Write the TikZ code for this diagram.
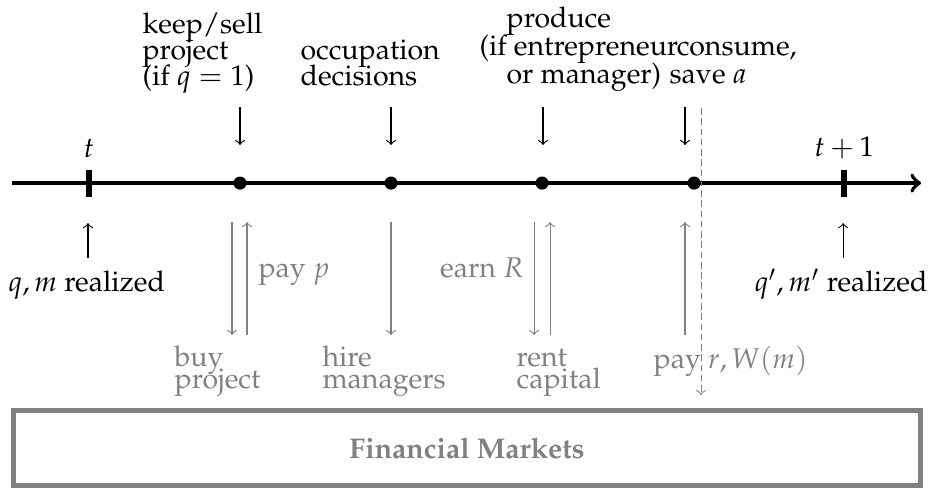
\documentclass[tikz,border=0pt]{standalone}
\usepackage[T1]{fontenc}
\usepackage{mathpazo}

\begin{document}
\begin{tikzpicture}[
    eventdot/.style={circle, fill=black, inner sep=0pt, minimum size=4.6pt},
    timetick/.style={line width=2.1pt},
    decision/.style={thin, -to},
    flow/.style={thin, gray, -to},
    txt/.style={inner sep=0pt, align=left, font={\fontsize{10}{9.1}\selectfont\lineskiplimit-20pt}},
    widetxt/.style={txt, font={\fontsize{10}{9.8}\selectfont\lineskiplimit-20pt}},
    graytxt/.style={txt, text=gray, font={\fontsize{10}{7.7}\selectfont\lineskiplimit-20pt}},
  ]
  \useasboundingbox (0,0) rectangle (11.54,6.03);

  % time line
  \coordinate (start) at (0.148, 3.773);
  \coordinate (end) at (11.357, 3.773);
  \draw[line width=1.4pt, ->] (start) -- (end);

  \coordinate (t0) at (1.097, 3.773);
  \coordinate (t1) at (10.407, 3.773);
  \draw[timetick] ([yshift=-0.166cm]t0) -- ([yshift=0.166cm]t0);
  \draw[timetick] ([yshift=-0.166cm]t1) -- ([yshift=0.166cm]t1);
  \node[anchor=base] (tlab) at (1.097, 4.094) {$t$};
  \node[anchor=base] (t1lab) at (10.407, 4.106) {$t+1$};

  \node[eventdot] (keep) at (2.959, 3.773) {};
  \node[eventdot] (occup) at (4.821, 3.773) {};
  \node[eventdot] (prod) at (6.683, 3.773) {};
  \node[eventdot] (cons) at (8.557, 3.773) {};

  % decisions above the line
  \node[txt, anchor=base west] (keeplab) at (1.751, 4.981) {keep/sell\\project\\(if $q=1$)};
  \node[txt, anchor=base west] (occuplab) at (3.699, 4.981) {occupation\\decisions};
  \node[widetxt, anchor=base west] (prodlab) at (5.906, 5.006) {\hspace*{9.5pt}produce\\(if entrepreneur\\\hspace*{9.5pt}or manager)};
  \node[widetxt, anchor=base west] (conslab) at (8.249, 5.006) {\hspace*{2.5pt}consume,\\save $a$};

  \coordinate (keepa) at (2.959, 4.710);
  \coordinate (keepb) at (2.959, 4.241);
  \coordinate (occupa) at (4.821, 4.710);
  \coordinate (occupb) at (4.821, 4.241);
  \coordinate (proda) at (6.695, 4.710);
  \coordinate (prodb) at (6.695, 4.241);
  \coordinate (consa) at (8.446, 4.710);
  \coordinate (consb) at (8.446, 4.241);
  \draw[decision] (keepa) -- (keepb);
  \draw[decision] (occupa) -- (occupb);
  \draw[decision] (proda) -- (prodb);
  \draw[decision] (consa) -- (consb);

  % shocks
  \node[txt, anchor=base west] (shock0) at (0.099, 2.43) {$q,m$ realized};
  \node[txt, anchor=base west] (shock1) at (9.297, 2.43) {$q',m'$ realized};
  \coordinate (s0a) at (1.085, 2.848);
  \coordinate (s0b) at (1.085, 3.280);
  \coordinate (s1a) at (10.395, 2.848);
  \coordinate (s1b) at (10.395, 3.280);
  \draw[decision] (s0a) -- (s0b);
  \draw[decision] (s1a) -- (s1b);

  % flows with the financial markets
  \coordinate (buya) at (2.861, 3.292);
  \coordinate (buyb) at (2.861, 1.899);
  \coordinate (paya) at (3.046, 1.899);
  \coordinate (payb) at (3.046, 3.292);
  \coordinate (hirea) at (4.821, 3.292);
  \coordinate (hireb) at (4.821, 1.899);
  \coordinate (renta) at (6.585, 3.292);
  \coordinate (rentb) at (6.585, 1.899);
  \coordinate (earna) at (6.782, 1.899);
  \coordinate (earnb) at (6.782, 3.292);
  \coordinate (wagea) at (8.446, 1.899);
  \coordinate (wageb) at (8.446, 3.292);
  \draw[flow] (buya) -- (buyb);
  \draw[flow] (paya) -- (payb);
  \draw[flow] (hirea) -- (hireb);
  \draw[flow] (renta) -- (rentb);
  \draw[flow] (earna) -- (earnb);
  \draw[flow] (wagea) -- (wageb);

  \node[graytxt, anchor=base west] (paylab) at (3.181, 2.614) {pay $p$};
  \node[graytxt, anchor=base east] (earnlab) at (6.46, 2.614) {earn $R$};
  \node[graytxt, anchor=base west] (buylab) at (2.146, 1.245) {buy\\project};
  \node[graytxt, anchor=base west] (hirelab) at (3.970, 1.245) {hire\\managers};
  \node[graytxt, anchor=base west] (rentlab) at (6.363, 1.245) {rent\\capital};
  \node[graytxt, anchor=base west] (wagelab) at (8.052, 1.492) {pay $r, W(m)$};

  % end of period
  \coordinate (cuta) at (8.644, 4.698);
  \coordinate (cutb) at (8.644, 1.159);
  \draw[thin, gray, dash pattern=on 2.3pt off 1.3pt, -to] (cuta) -- (cutb);

  \node[draw=gray, line width=1.75pt, minimum width=11.184cm, minimum height=0.925cm,
        text=gray, font=\bfseries] (fm) at (5.758, 0.503) {Financial Markets};
\end{tikzpicture}
\end{document}
